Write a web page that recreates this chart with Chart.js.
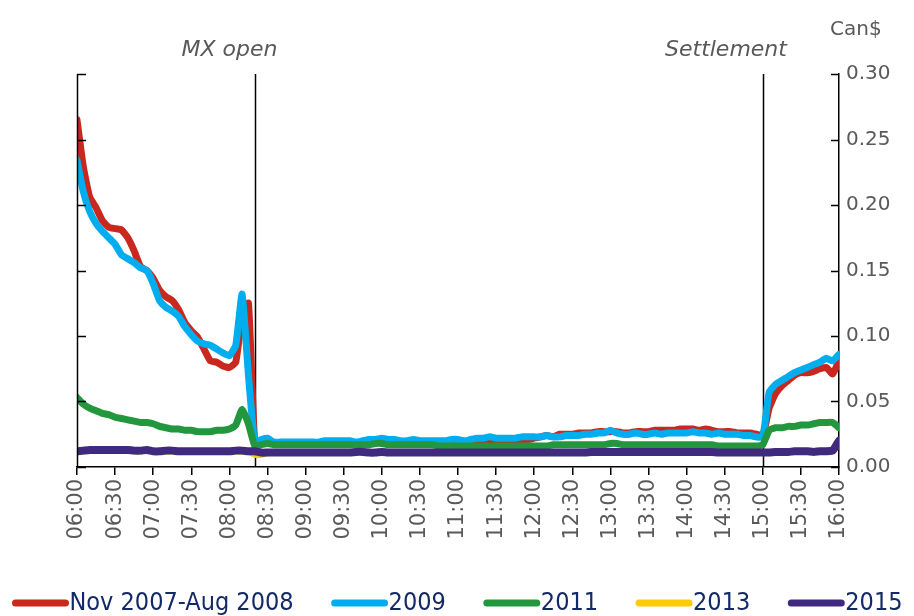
<!DOCTYPE html>
<html>
<head>
<meta charset="utf-8">
<script src="https://cdn.jsdelivr.net/npm/chart.js@4.4.1/dist/chart.umd.min.js"></script>
<style>
  html, body { margin: 0; padding: 0; background: #fff; }
  #wrap { width: 914px; height: 616px; position: relative; }
</style>
</head>
<body>
<div id="wrap"><canvas id="chart"></canvas></div>
<script>
// x grid: every 5 minutes from 06:00 to 16:00 (minutes after midnight)
const minutes = [];
for (let m = 360; m <= 960; m += 5) minutes.push(m);

const seriesNames = ['Nov 2007-Aug 2008', '2009', '2011', '2013', '2015'];
const seriesColors = ['#C8281E', '#00AEEF', '#22973E', '#FFCB05', '#3F2A7E'];
const eventLabels = ['MX open', 'Settlement'];
const eventTimes = [500, 900];        // 08:20 and 15:00
const yTicks = [0, 0.05, 0.10, 0.15, 0.20, 0.25, 0.30];

const red = [
  .265, .229, .206, .198, .188, .183, .182, .181, .175, .165, .153, .150, .144, .135, .130, .127, .120, .110, .104, .099, .090, .081, .080, .077, .076, .080, .115, .125, .018,
  .019,
  .020, .018, .018, .018, .018, .018,
  .018, .018, .018, .018, .019, .019,
  .019, .018, .018, .019, .019, .019,
  .020, .019, .019, .018, .018, .019,
  .018, .018, .018, .019, .019, .019,
  .019, .019, .019, .020, .019, .020,
  .020, .020, .020, .021, .021, .021,
  .022, .023, .024, .023, .025, .025,
  .025, .026, .026, .026, .027, .027,
  .027, .027, .026, .026, .027, .027,
  .027, .028, .028, .028, .028, .029,
  .029, .029, .028, .029, .028, .027,
  .027, .027, .026, .026, .026, .025,
  .024,
  .045, .056, .062, .066, .070,
  .072, .072, .073, .075, .076, .071,
  .081
];

const blue = [
  .234, .210, .195, .186, .180, .175, .170, .162, .159, .156, .152, .150, .140, .127, .122, .119, .115, .107, .101, .096, .094, .093, .090, .087, .085, .093, .132, .070, .019,
  .021,
  .022, .019, .019, .019, .019, .019,
  .019, .019, .019, .020, .020, .020,
  .020, .020, .019, .020, .021, .021,
  .022, .021, .021, .020, .020, .021,
  .020, .020, .020, .020, .020, .021,
  .021, .020, .021, .022, .022, .023,
  .022, .022, .022, .022, .023, .023,
  .023, .023, .024, .023, .023, .024,
  .024, .024, .025, .025, .026, .026,
  .028, .026, .025, .025, .026, .025,
  .025, .026, .025, .026, .026, .026,
  .026, .027, .026, .026, .025, .026,
  .025, .025, .025, .024, .024, .023,
  .023,
  .057, .063, .066, .069, .072,
  .074, .076, .078, .080, .083, .081,
  .086
];

const green = [
  .053, .048, .045, .043, .041, .040, .038, .037, .036, .035, .034, .034, .033, .031, .030, .029, .029, .028, .028, .027, .027, .027, .028, .028, .029, .032, .044, .033, .016,
  .017,
  .018, .017, .017, .017, .017, .017,
  .017, .017, .017, .017, .017, .017,
  .017, .017, .017, .017, .017, .018,
  .018, .017, .017, .017, .017, .017,
  .017, .017, .017, .016, .016, .016,
  .016, .016, .016, .016, .016, .016,
  .016, .016, .016, .016, .016, .016,
  .016, .016, .016, .017, .017, .017,
  .017, .017, .017, .017, .017, .017,
  .018, .018, .017, .017, .017, .017,
  .017, .017, .017, .017, .017, .017,
  .017, .017, .017, .017, .017, .016,
  .016, .016, .016, .016, .016, .016,
  .017,
  .028, .030, .030, .031, .031,
  .032, .032, .033, .034, .034, .034,
  .030
];

const yellow = [
  .0115, .0115, .012, .012, .012, .012, .012, .012, .012, .0115, .0115, .012, .0115, .0115, .0115, .0115, .0115, .0115, .0115, .0115, .0115, .0115, .0115, .0115, .0115, .0115, .0115, .011, .009,
  .009,
  .010, .0105, .0105, .0105, .0105, .0105,
  .0105, .0105, .0105, .0105, .0105, .0105,
  .0105, .0105, .011, .011, .0105, .0105,
  .011, .0105, .0105, .0105, .0105, .0105,
  .0105, .0105, .0105, .0105, .0105, .0105,
  .0105, .0105, .0105, .0105, .0105, .0105,
  .0105, .0105, .0105, .0105, .0105, .0105,
  .0105, .0105, .0105, .0105, .0105, .0105,
  .0105, .0105, .0105, .011, .011, .011,
  .011, .011, .011, .011, .011, .011,
  .011, .011, .011, .011, .011, .011,
  .011, .011, .011, .011, .011, .0105,
  .0105, .0105, .0105, .0105, .0105, .0105,
  .0105,
  .0105, .011, .011, .011, .0115,
  .0115, .0115, .011, .0115, .012, .013,
  .016
];

const purple = [
  .012, .0125, .013, .013, .013, .013, .013, .013, .013, .0125, .0125, .013, .012, .012, .0125, .0125, .012, .012, .012, .012, .012, .012, .012, .012, .012, .0125, .0125, .012, .012,
  .011,
  .011, .011, .011, .011, .011, .011,
  .011, .011, .011, .011, .011, .011,
  .011, .011, .0115, .0115, .011, .011,
  .0115, .011, .011, .011, .011, .011,
  .011, .011, .011, .011, .011, .011,
  .011, .011, .011, .011, .011, .011,
  .011, .011, .011, .011, .011, .011,
  .011, .011, .011, .011, .011, .011,
  .011, .011, .011, .0115, .0115, .0115,
  .0115, .0115, .0115, .0115, .0115, .0115,
  .0115, .0115, .0115, .0115, .0115, .0115,
  .0115, .0115, .0115, .0115, .0115, .011,
  .011, .011, .011, .011, .011, .011,
  .011,
  .011, .0115, .0115, .0115, .012,
  .012, .012, .0115, .012, .012, .0125,
  .020
];

const seriesData = [red, blue, green, yellow, purple];
const lineWidths = [7, 7, 7, 5, 8];

const GREY = '#595959';
const AXIS_FONT = '"DejaVu Sans", Verdana, sans-serif';
const LEGEND_FONT = '"Liberation Sans Narrow", "DejaVu Sans Condensed", "Arial Narrow", sans-serif';

function fmtTime(m) {
  const h = Math.floor(m / 60), mm = m % 60;
  return String(h).padStart(2, '0') + ':' + String(mm).padStart(2, '0');
}

// Frame, inward ticks, event lines, titles and legend
const decorPlugin = {
  id: 'decor',
  beforeDatasetsDraw(chart) {
    const { ctx, chartArea: a, scales } = chart;
    ctx.save();
    ctx.strokeStyle = '#000';
    ctx.lineWidth = 1.5;
    eventTimes.forEach(t => {
      const x = Math.round(scales.x.getPixelForValue(t)) + 0.5;
      ctx.beginPath();
      ctx.moveTo(x, a.top);
      ctx.lineTo(x, a.bottom);
      ctx.stroke();
    });
    ctx.restore();
  },
  afterDraw(chart) {
    const { ctx, chartArea: a, scales } = chart;
    ctx.save();
    // left axis line and inward ticks on both sides
    ctx.strokeStyle = '#000';
    ctx.lineWidth = 1.5;
    ctx.beginPath();
    ctx.moveTo(a.left + 0.5, a.top);
    ctx.lineTo(a.left + 0.5, a.bottom);
    yTicks.forEach(v => {
      const y = Math.round(scales.y.getPixelForValue(v)) + 0.5;
      ctx.moveTo(a.left, y); ctx.lineTo(a.left + 9, y);
      ctx.moveTo(a.right, y); ctx.lineTo(a.right - 8, y);
    });
    ctx.stroke();

    // event titles
    ctx.fillStyle = GREY;
    ctx.font = 'italic 22px ' + AXIS_FONT;
    ctx.textAlign = 'center';
    ctx.textBaseline = 'middle';
    ctx.fillText(eventLabels[0], scales.x.getPixelForValue(480), 50);
    ctx.fillText(eventLabels[1], scales.x.getPixelForValue(871), 50);

    // unit label
    ctx.font = '20px ' + AXIS_FONT;
    ctx.textAlign = 'left';
    ctx.fillText('Can$', a.right - 9, 30);

    // legend
    ctx.font = '25px ' + LEGEND_FONT;
    ctx.textBaseline = 'middle';
    const lineLen = 58, gap = 37;
    const widths = seriesNames.map(n => ctx.measureText(n).width);
    const total = widths.reduce((s, w) => s + lineLen + w, 0) + gap * (seriesNames.length - 1);
    let x = (chart.width - total) / 2;
    const ly = 603;
    seriesNames.forEach((n, i) => {
      ctx.strokeStyle = seriesColors[i];
      ctx.lineWidth = 7;
      ctx.lineCap = 'round';
      ctx.beginPath();
      ctx.moveTo(x + 4, ly);
      ctx.lineTo(x + lineLen - 4, ly);
      ctx.stroke();
      ctx.fillStyle = '#142A66';
      ctx.textAlign = 'left';
      ctx.fillText(n, x + lineLen, ly);
      x += lineLen + widths[i] + gap;
    });
    ctx.restore();
  }
};

new Chart(document.getElementById('chart'), {
  type: 'line',
  data: {
    datasets: seriesNames.map((name, i) => ({
      label: name,
      data: minutes.map((m, j) => ({ x: m, y: seriesData[i][j] })),
      borderColor: seriesColors[i],
      backgroundColor: seriesColors[i],
      borderWidth: lineWidths[i],
      pointRadius: 0,
      tension: 0.15,
      borderJoinStyle: 'round',
      borderCapStyle: 'round',
      order: seriesNames.length - i
    }))
  },
  options: {
    responsive: true,
    maintainAspectRatio: false,
    animation: false,
    layout: { padding: { left: 77, top: 74, right: 0, bottom: 0 } },
    plugins: {
      legend: { display: false },
      tooltip: { enabled: false }
    },
    scales: {
      x: {
        type: 'linear',
        min: 360,
        max: 960,
        afterFit: s => { s.height = 149; },
        border: { display: true, color: '#000', width: 1.5 },
        grid: { drawOnChartArea: false, drawTicks: true, tickLength: 8, color: '#000', lineWidth: 1.5 },
        ticks: {
          stepSize: 30,
          autoSkip: false,
          maxRotation: 90,
          minRotation: 90,
          padding: 4,
          color: GREY,
          font: { family: AXIS_FONT, size: 21 },
          callback: v => fmtTime(v)
        }
      },
      y: {
        position: 'right',
        min: 0,
        max: 0.30,
        afterFit: s => { s.width = 75; },
        border: { display: true, color: '#000', width: 1.5 },
        grid: { drawOnChartArea: false, drawTicks: false },
        ticks: {
          stepSize: 0.05,
          padding: 7,
          color: GREY,
          font: { family: AXIS_FONT, size: 20 },
          callback: v => v.toFixed(2)
        }
      }
    }
  },
  plugins: [decorPlugin]
});
</script>
</body>
</html>
